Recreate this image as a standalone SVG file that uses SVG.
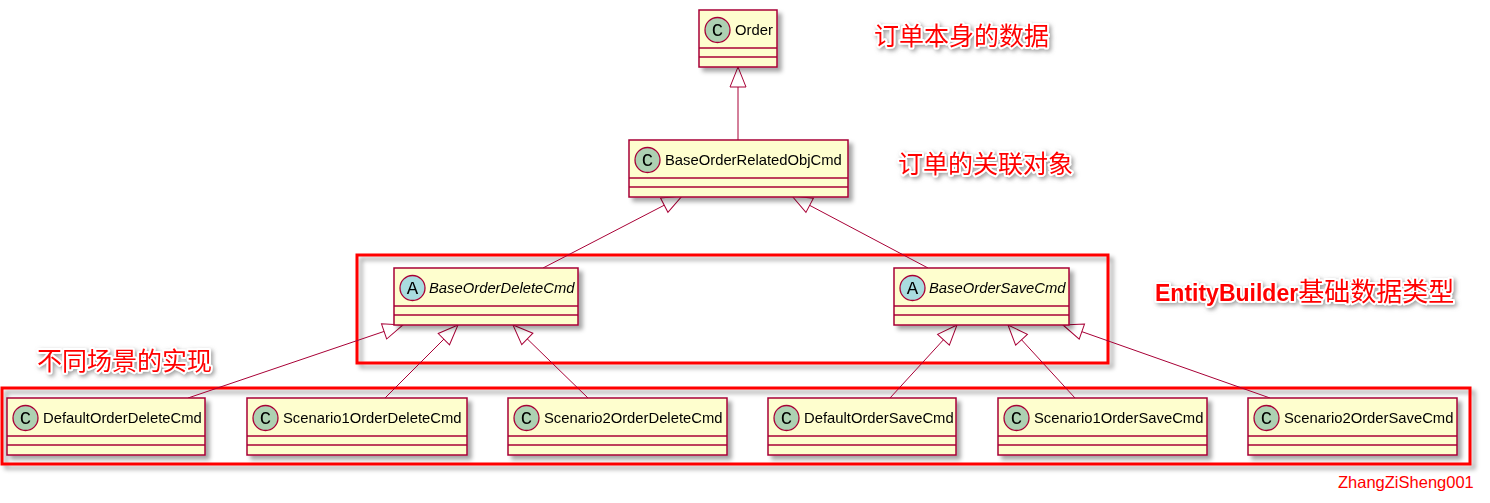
<svg xmlns="http://www.w3.org/2000/svg" width="1490" height="503" viewBox="0 0 1490 503">
<style>
.box{fill:#FEFECE;stroke:#A80036;stroke-width:1.5;}
.sep{stroke:#A80036;stroke-width:1.5;}
.circC{fill:#ADD1B2;stroke:#A80036;stroke-width:1.3;}
.circA{fill:#A9DCDF;stroke:#A80036;stroke-width:1.3;}
.glyph{font-family:"Liberation Mono",monospace;font-size:19px;fill:#000;text-anchor:middle;}
.name{font-family:"Liberation Sans",Arial,sans-serif;font-size:14.8px;fill:#000;}
.abs{font-style:italic;}
.frame{fill:none;stroke:#FF0000;stroke-width:3;}
.conn{fill:none;stroke:#A80036;stroke-width:1;marker-end:url(#ext);}
.note{font-family:"Liberation Sans","Noto Sans CJK SC",sans-serif;font-size:25px;fill:#FF0000;stroke:#FFFFFF;stroke-width:4;paint-order:stroke;stroke-linejoin:round;}
.sig{font-family:"Liberation Sans",Arial,sans-serif;font-size:16.5px;fill:#FF0000;}
</style>
<defs>
<filter id="sh" x="-10%" y="-10%" width="130%" height="140%">
<feGaussianBlur in="SourceAlpha" stdDeviation="2"/>
<feOffset dx="4" dy="4" result="b"/>
<feFlood flood-color="#000" flood-opacity="0.35"/>
<feComposite in2="b" operator="in"/>
<feMerge><feMergeNode/><feMergeNode in="SourceGraphic"/></feMerge>
</filter>
<filter id="tsh" x="-10%" y="-30%" width="120%" height="170%">
<feDropShadow dx="2" dy="2" stdDeviation="2" flood-color="#888" flood-opacity="0.8"/>
</filter>
<marker id="ext" viewBox="-22 -10 24 20" refX="0" refY="0" markerWidth="24" markerHeight="20" markerUnits="userSpaceOnUse" orient="auto">
<path d="M0,0 L-20,-8 L-20,8 Z" fill="#FFFFFF" stroke="#A80036" stroke-width="1"/>
</marker>
</defs>
<rect width="1490" height="503" fill="#FFFFFF"/>

<g id="frames">
<rect class="frame" x="357" y="255" width="751" height="108" filter="url(#sh)"/>
<rect class="frame" x="2" y="388" width="1468" height="76" filter="url(#sh)"/>
</g>

<g id="connectors">
<path class="conn" d="M738,140 L738,67"/>
<path class="conn" d="M543,268 L682,196"/>
<path class="conn" d="M928,268 L792,196"/>
<path class="conn" d="M188,398 L403,325"/>
<path class="conn" d="M385,398 L458,325"/>
<path class="conn" d="M588,398 L513,325"/>
<path class="conn" d="M890,398 L957,325"/>
<path class="conn" d="M1075,398 L1008,325"/>
<path class="conn" d="M1270,398 L1063,325"/>
</g>

<g id="Order" filter="url(#sh)">
<rect class="box" x="699" y="10" width="78" height="57"/>
<line class="sep" x1="699" y1="48" x2="777" y2="48"/>
<line class="sep" x1="699" y1="57" x2="777" y2="57"/>
<circle class="circC" cx="717.5" cy="30" r="12.5"/>
<text class="glyph" x="717.5" y="36">C</text>
<text class="name" x="735" y="35">Order</text>
</g>

<g id="BaseOrderRelatedObjCmd" filter="url(#sh)">
<rect class="box" x="629" y="140" width="219" height="57"/>
<line class="sep" x1="629" y1="178" x2="848" y2="178"/>
<line class="sep" x1="629" y1="187" x2="848" y2="187"/>
<circle class="circC" cx="647.5" cy="160" r="12.5"/>
<text class="glyph" x="647.5" y="166">C</text>
<text class="name" x="665" y="165">BaseOrderRelatedObjCmd</text>
</g>

<g id="BaseOrderDeleteCmd" filter="url(#sh)">
<rect class="box" x="394" y="268" width="184" height="57"/>
<line class="sep" x1="394" y1="306" x2="578" y2="306"/>
<line class="sep" x1="394" y1="315" x2="578" y2="315"/>
<circle class="circA" cx="412.5" cy="288" r="12.5"/>
<text class="glyph" x="412.5" y="294">A</text>
<text class="name abs" x="429" y="293">BaseOrderDeleteCmd</text>
</g>

<g id="BaseOrderSaveCmd" filter="url(#sh)">
<rect class="box" x="894" y="268" width="175" height="57"/>
<line class="sep" x1="894" y1="306" x2="1069" y2="306"/>
<line class="sep" x1="894" y1="315" x2="1069" y2="315"/>
<circle class="circA" cx="912.5" cy="288" r="12.5"/>
<text class="glyph" x="912.5" y="294">A</text>
<text class="name abs" x="929" y="293">BaseOrderSaveCmd</text>
</g>

<g id="DefaultOrderDeleteCmd" filter="url(#sh)">
<rect class="box" x="7" y="398" width="198" height="57"/>
<line class="sep" x1="7" y1="436" x2="205" y2="436"/>
<line class="sep" x1="7" y1="445" x2="205" y2="445"/>
<circle class="circC" cx="25.5" cy="418" r="12.5"/>
<text class="glyph" x="25.5" y="424">C</text>
<text class="name" x="43" y="423">DefaultOrderDeleteCmd</text>
</g>

<g id="Scenario1OrderDeleteCmd" filter="url(#sh)">
<rect class="box" x="247" y="398" width="220" height="57"/>
<line class="sep" x1="247" y1="436" x2="467" y2="436"/>
<line class="sep" x1="247" y1="445" x2="467" y2="445"/>
<circle class="circC" cx="265.5" cy="418" r="12.5"/>
<text class="glyph" x="265.5" y="424">C</text>
<text class="name" x="283" y="423">Scenario1OrderDeleteCmd</text>
</g>

<g id="Scenario2OrderDeleteCmd" filter="url(#sh)">
<rect class="box" x="508" y="398" width="219" height="57"/>
<line class="sep" x1="508" y1="436" x2="727" y2="436"/>
<line class="sep" x1="508" y1="445" x2="727" y2="445"/>
<circle class="circC" cx="526.5" cy="418" r="12.5"/>
<text class="glyph" x="526.5" y="424">C</text>
<text class="name" x="544" y="423">Scenario2OrderDeleteCmd</text>
</g>

<g id="DefaultOrderSaveCmd" filter="url(#sh)">
<rect class="box" x="768" y="398" width="188" height="57"/>
<line class="sep" x1="768" y1="436" x2="956" y2="436"/>
<line class="sep" x1="768" y1="445" x2="956" y2="445"/>
<circle class="circC" cx="786.5" cy="418" r="12.5"/>
<text class="glyph" x="786.5" y="424">C</text>
<text class="name" x="804" y="423">DefaultOrderSaveCmd</text>
</g>

<g id="Scenario1OrderSaveCmd" filter="url(#sh)">
<rect class="box" x="998" y="398" width="209" height="57"/>
<line class="sep" x1="998" y1="436" x2="1207" y2="436"/>
<line class="sep" x1="998" y1="445" x2="1207" y2="445"/>
<circle class="circC" cx="1016.5" cy="418" r="12.5"/>
<text class="glyph" x="1016.5" y="424">C</text>
<text class="name" x="1034" y="423">Scenario1OrderSaveCmd</text>
</g>

<g id="Scenario2OrderSaveCmd" filter="url(#sh)">
<rect class="box" x="1248" y="398" width="209" height="57"/>
<line class="sep" x1="1248" y1="436" x2="1457" y2="436"/>
<line class="sep" x1="1248" y1="445" x2="1457" y2="445"/>
<circle class="circC" cx="1266.5" cy="418" r="12.5"/>
<text class="glyph" x="1266.5" y="424">C</text>
<text class="name" x="1284" y="423">Scenario2OrderSaveCmd</text>
</g>

<g id="labels" filter="url(#tsh)">
<text class="note" x="874" y="45">订单本身的数据</text>
<text class="note" x="898" y="173">订单的关联对象</text>
<text class="note" x="1155" y="301"><tspan font-weight="bold" font-size="23px">EntityBuilder</tspan><tspan font-size="26px">基础数据类型</tspan></text>
<text class="note" x="37" y="370">不同场景的实现</text>
</g>
<text class="sig" x="1338" y="488">ZhangZiSheng001</text>
</svg>
